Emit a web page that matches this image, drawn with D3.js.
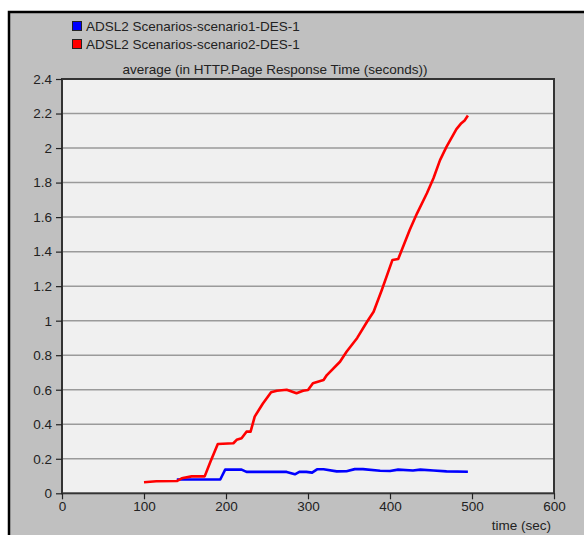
<!DOCTYPE html>
<html lang="en">
<head>
    <meta charset="utf-8">
    <style>
        body { margin: 0; background: #fff; }
        svg text { font-family: "Liberation Sans", Arial, sans-serif; font-size: 13.5px; fill: #222; }
        .grid line { stroke: #9a9a9a; stroke-width: 1.5; }
        .axis .domain { display: none; }
        .axis line { stroke: #222; stroke-width: 1.2; }
    </style>
</head>
<body>
    <svg width="584" height="535"></svg>
    <script src="https://cdn.jsdelivr.net/npm/d3@7"></script>
    <script>

        // series (time in sec, value in seconds)
        var seriesNames = ["ADSL2 Scenarios-scenario1-DES-1", "ADSL2 Scenarios-scenario2-DES-1"];
        var seriesColors = ["#0000ff", "#ff0000"];

        var blueTime = [140, 193, 199, 219, 225, 274, 284, 290, 298, 305, 311, 319, 335, 347, 357, 367, 388, 400, 410, 428, 437, 453, 469, 495];
        var blueValue = [0.08, 0.08, 0.137, 0.137, 0.124, 0.124, 0.11, 0.125, 0.124, 0.12, 0.139, 0.139, 0.127, 0.128, 0.14, 0.14, 0.131, 0.129, 0.137, 0.132, 0.137, 0.132, 0.127, 0.125];

        var redTime = [100, 115, 140, 146, 158, 174, 181, 190, 209, 213, 219, 225, 230, 235, 245, 255, 262, 274, 286, 294, 300, 306, 319, 323, 339, 347, 360, 372, 380, 390, 403, 410, 424, 433, 445, 453, 461, 469, 481, 487, 491, 495];
        var redValue = [0.064, 0.07, 0.071, 0.087, 0.098, 0.098, 0.183, 0.286, 0.29, 0.31, 0.319, 0.357, 0.357, 0.444, 0.52, 0.585, 0.594, 0.60, 0.58, 0.594, 0.598, 0.637, 0.656, 0.685, 0.762, 0.82, 0.9, 0.994, 1.052, 1.178, 1.352, 1.357, 1.525, 1.622, 1.738, 1.825, 1.93, 2.008, 2.11, 2.144, 2.16, 2.188];

        var xTicks = [0, 100, 200, 300, 400, 500, 600];
        var yTicks = [0, 0.2, 0.4, 0.6, 0.8, 1, 1.2, 1.4, 1.6, 1.8, 2, 2.2, 2.4];

        var svg = d3.select("svg");

        // gray panel with black frame (runs off the right and bottom)
        svg.append("rect")
            .attr("x", 9).attr("y", 12)
            .attr("width", 600).attr("height", 560)
            .attr("fill", "#c0c0c0")
            .attr("stroke", "#000")
            .attr("stroke-width", 2.5);

        var x = d3.scaleLinear().domain([0, 600]).range([62, 554]);
        var y = d3.scaleLinear().domain([0, 2.4]).range([493.3, 79]);

        // plot area
        svg.append("rect")
            .attr("x", x(0)).attr("y", y(2.4))
            .attr("width", x(600) - x(0)).attr("height", y(0) - y(2.4))
            .attr("fill", "#f0f0f0");

        svg.append("g")
            .attr("class", "grid")
            .selectAll("line")
            .data(yTicks.slice(1, -1))
            .enter().append("line")
            .attr("x1", x(0)).attr("x2", x(600))
            .attr("y1", function (d) { return y(d); })
            .attr("y2", function (d) { return y(d); });

        // frame of plot area
        svg.append("rect")
            .attr("x", x(0)).attr("y", y(2.4))
            .attr("width", x(600) - x(0)).attr("height", y(0) - y(2.4))
            .attr("fill", "none")
            .attr("stroke", "#333")
            .attr("stroke-width", 2);

        svg.append("g")
            .attr("class", "axis")
            .attr("transform", "translate(" + x(0) + ",0)")
            .call(d3.axisLeft(y).tickValues(yTicks).tickSize(6).tickPadding(4)
                .tickFormat(function (d) { return String(+d.toFixed(1)); }));

        svg.append("g")
            .attr("class", "axis")
            .attr("transform", "translate(0," + y(0) + ")")
            .call(d3.axisBottom(x).tickValues(xTicks).tickSize(6).tickPadding(2)
                .tickFormat(d3.format("d")));

        var line = d3.line()
            .x(function (d) { return x(d[0]); })
            .y(function (d) { return y(d[1]); });

        var series = [
            d3.zip(blueTime, blueValue),
            d3.zip(redTime, redValue)
        ];

        svg.append("g")
            .selectAll("path")
            .data(series)
            .enter().append("path")
            .attr("d", line)
            .attr("fill", "none")
            .attr("stroke", function (d, i) { return seriesColors[i]; })
            .attr("stroke-width", 2.6)
            .attr("stroke-linejoin", "round");

        // legend
        var legend = svg.append("g")
            .selectAll("g")
            .data(seriesNames)
            .enter().append("g")
            .attr("transform", function (d, i) { return "translate(72," + (21 + i * 18) + ")"; });

        legend.append("rect")
            .attr("x", 0.5).attr("y", 0.5)
            .attr("width", 9).attr("height", 9)
            .attr("fill", function (d, i) { return seriesColors[i]; })
            .attr("stroke", "#222");

        legend.append("text")
            .attr("x", 14).attr("y", 9.5)
            .text(function (d) { return d; });

        svg.append("text")
            .attr("x", 275).attr("y", 74)
            .attr("text-anchor", "middle")
            .text("average (in HTTP.Page Response Time (seconds))");

        svg.append("text")
            .attr("x", 551).attr("y", 530)
            .attr("text-anchor", "end")
            .text("time (sec)");

    </script>
</body>
</html>
